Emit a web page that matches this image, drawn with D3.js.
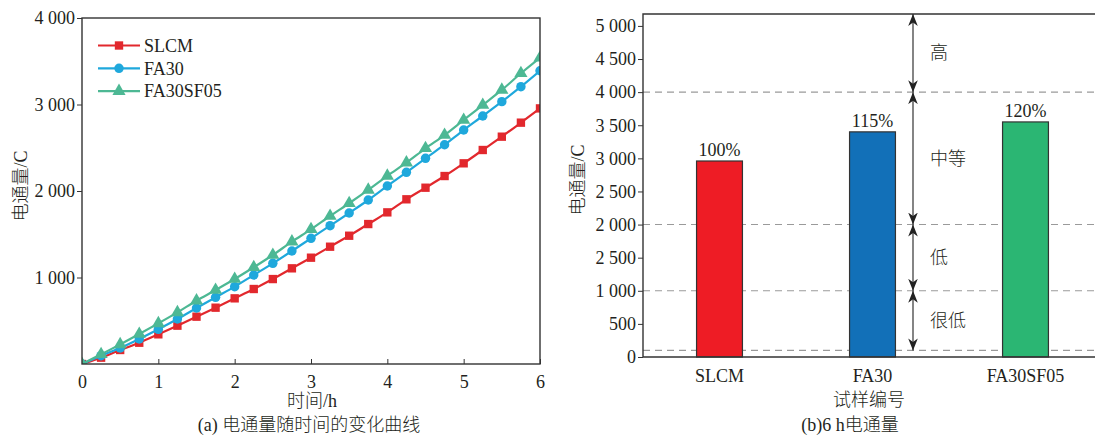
<!DOCTYPE html>
<html>

<head>
	<meta charset="utf-8">
	<script src="https://d3js.org/d3.v7.min.js"></script>
	<style>
		body {
			margin: 0;
			background-color: white;
		}

		text {
			font-family: "Liberation Serif", "Noto Sans CJK SC", serif;
			font-size: 18px;
			font-weight: 300;
			fill: #231f20;
		}

		.cjk {
			font-family: "Noto Sans CJK SC", sans-serif;
			font-weight: 300;
		}

		.axis path,
		.axis line {
			stroke: #333;
		}
	</style>
</head>

<body>
	<div id="chart"></div>

	<script>
		// ---- data (a): charge passed vs time ----
		var hours = [0, 0.25, 0.5, 0.75, 1, 1.25, 1.5, 1.75, 2, 2.25, 2.5, 2.75, 3,
			3.25, 3.5, 3.75, 4, 4.25, 4.5, 4.75, 5, 5.25, 5.5, 5.75, 6];
		var slcm = [0, 73, 162, 246, 343, 443, 547, 651, 759, 867, 982, 1106, 1229,
			1356, 1483, 1618, 1753, 1904, 2038, 2173, 2320, 2474, 2628, 2790, 2955];
		var fa30 = [0, 96, 185, 289, 401, 520, 647, 771, 894, 1029, 1164, 1306, 1453,
			1599, 1746, 1896, 2058, 2216, 2378, 2535, 2705, 2867, 3033, 3206, 3390];
		var fa30sf05 = [0, 112, 227, 347, 470, 597, 732, 855, 982, 1118, 1260, 1414, 1557,
			1711, 1858, 2012, 2175, 2327, 2494, 2647, 2821, 2994, 3168, 3361, 3540];
		var seriesNames = ["SLCM", "FA30", "FA30SF05"];
		var seriesColors = ["#e2282d", "#1fa8dc", "#4db894"];
		var seriesShapes = ["square", "circle", "triangle"];
		var xTicksA = [0, 1, 2, 3, 4, 5, 6];
		var yTicksA = [1000, 2000, 3000, 4000];

		// ---- data (b): charge passed at 6 h ----
		var samples = ["SLCM", "FA30", "FA30SF05"];
		var charge6h = [2960, 3400, 3550];
		var ratioLabels = ["100%", "115%", "120%"];
		var barColors = ["#ee1c25", "#1270b8", "#2bb673"];
		var yTicksB = [0, 500, 1000, 1500, 2000, 2500, 3000, 3500, 4000, 4500, 5000];
		var yTickLabelsB = ["0", "500", "1 000", "2 500", "2 000", "2 500", "3 000", "3 500", "4 000", "4 500", "5 000"];
		var gradeLines = [100, 1000, 2000, 4000];
		var grades = ["很低", "低", "中等", "高"];

		var W = 1095, H = 439;
		var svg = d3.select("#chart").append("svg")
			.attr("width", W)
			.attr("height", H);

		var defs = svg.append("defs");
		defs.append("marker")
			.attr("id", "arrow")
			.attr("viewBox", "-12 -6 13 12")
			.attr("refX", 0)
			.attr("refY", 0)
			.attr("markerWidth", 13)
			.attr("markerHeight", 12)
			.attr("markerUnits", "userSpaceOnUse")
			.attr("orient", "auto-start-reverse")
			.append("path")
			.attr("d", "M0,0 L-12,-4.8 L-8.5,0 L-12,4.8 Z")
			.attr("fill", "#222");

		function fmtK(d) {
			return d3.format(",")(d).replace(",", " ");
		}

		// ================= chart (a) =================
		var pa = { left: 82, right: 540, top: 18, bottom: 364 };
		var xA = d3.scaleLinear().domain([0, 6]).range([pa.left, pa.right]);
		var yA = d3.scaleLinear().domain([0, 4000]).range([pa.bottom, pa.top]);

		var gA = svg.append("g");

		gA.append("g")
			.attr("class", "axis")
			.attr("transform", "translate(0," + pa.bottom + ")")
			.call(d3.axisBottom(xA).tickValues(xTicksA).tickFormat(d3.format("d"))
				.tickSizeInner(-5).tickSizeOuter(0).tickPadding(11))
			.call(function (g) { g.select(".domain").remove(); });

		gA.append("g")
			.attr("class", "axis")
			.attr("transform", "translate(" + pa.left + ",0)")
			.call(d3.axisLeft(yA).tickValues(yTicksA).tickFormat(fmtK).tickSizeInner(5).tickSizeOuter(0).tickPadding(2))
			.call(function (g) { g.select(".domain").remove(); });

		gA.selectAll(".axis").attr("font-size", null).attr("font-family", null);

		var series = seriesNames.map(function (name, i) {
			var vals = [slcm, fa30, fa30sf05][i];
			return {
				name: name,
				color: seriesColors[i],
				shape: seriesShapes[i],
				points: hours.map(function (h, j) { return { t: h, v: vals[j] }; })
			};
		});

		var line = d3.line()
			.x(function (d) { return xA(d.t); })
			.y(function (d) { return yA(d.v); })
			.curve(d3.curveMonotoneX);

		var symbolType = {
			square: d3.symbolSquare,
			circle: d3.symbolCircle,
			triangle: d3.symbolTriangle
		};
		var symbolSize = { square: 70, circle: 70, triangle: 75 };

		gA.append("clipPath").attr("id", "clipA")
			.append("rect")
			.attr("x", pa.left).attr("y", pa.top)
			.attr("width", pa.right - pa.left).attr("height", pa.bottom - pa.top);

		var sg = gA.selectAll(".series")
			.data(series)
			.enter().append("g")
			.attr("class", "series")
			.attr("clip-path", "url(#clipA)");

		sg.append("path")
			.attr("d", function (d) { return line(d.points); })
			.attr("fill", "none")
			.attr("stroke", function (d) { return d.color; })
			.attr("stroke-width", 2.2);

		sg.selectAll(".pt")
			.data(function (d) { return d.points.map(function (p) { return { p: p, s: d }; }); })
			.enter().append("path")
			.attr("class", "pt")
			.attr("transform", function (d) { return "translate(" + xA(d.p.t) + "," + yA(d.p.v) + ")"; })
			.attr("d", function (d) { return d3.symbol().type(symbolType[d.s.shape]).size(symbolSize[d.s.shape])(); })
			.attr("fill", function (d) { return d.s.color; });

		// frame
		gA.append("rect")
			.attr("x", pa.left).attr("y", pa.top)
			.attr("width", pa.right - pa.left).attr("height", pa.bottom - pa.top)
			.attr("fill", "none")
			.attr("stroke", "#333")
			.attr("stroke-width", 1.4);

		// legend
		var leg = gA.selectAll(".leg")
			.data(series)
			.enter().append("g")
			.attr("class", "leg")
			.attr("transform", function (d, i) { return "translate(98," + (45.5 + i * 22.8) + ")"; });
		leg.append("line")
			.attr("x1", 0).attr("x2", 42)
			.attr("stroke", function (d) { return d.color; })
			.attr("stroke-width", 2.2);
		leg.append("path")
			.attr("transform", "translate(21,0)")
			.attr("d", function (d) { return d3.symbol().type(symbolType[d.shape]).size(symbolSize[d.shape])(); })
			.attr("fill", function (d) { return d.color; });
		leg.append("text")
			.attr("x", 46)
			.attr("dy", "0.35em")
			.text(function (d) { return d.name; });

		gA.append("text")
			.attr("transform", "translate(27,186) rotate(-90)")
			.attr("text-anchor", "middle")
			.text("电通量/C");

		gA.append("text")
			.attr("x", 312)
			.attr("y", 407)
			.attr("text-anchor", "middle")
			.text("时间/h");

		gA.append("text")
			.attr("x", 309)
			.attr("y", 431)
			.attr("text-anchor", "middle")
			.text("(a) 电通量随时间的变化曲线");

		// ================= chart (b) =================
		var pb = { left: 643, right: 1095, top: 14, bottom: 357 };
		var xB = d3.scaleBand().domain(samples).range([pb.left, 1102]).paddingInner(0.7).paddingOuter(0.35);
		var yB = d3.scaleLinear().domain([0, 5180]).range([pb.bottom, pb.top]);

		var gB = svg.append("g");

		// grade dashed lines
		gB.selectAll(".grade")
			.data(gradeLines)
			.enter().append("line")
			.attr("x1", pb.left).attr("x2", pb.right)
			.attr("y1", function (d) { return yB(d); })
			.attr("y2", function (d) { return yB(d); })
			.attr("stroke", "#9a9a9a")
			.attr("stroke-width", 1.1)
			.attr("stroke-dasharray", "7,5");

		var bars = samples.map(function (s, i) {
			return { name: s, value: charge6h[i], label: ratioLabels[i], color: barColors[i] };
		});

		gB.selectAll(".bar")
			.data(bars)
			.enter().append("rect")
			.attr("class", "bar")
			.attr("x", function (d) { return xB(d.name); })
			.attr("y", function (d) { return yB(d.value); })
			.attr("width", xB.bandwidth())
			.attr("height", function (d) { return yB(0) - yB(d.value); })
			.attr("fill", function (d) { return d.color; })
			.attr("stroke", "#333")
			.attr("stroke-width", 1.2);

		gB.selectAll(".pct")
			.data(bars)
			.enter().append("text")
			.attr("x", function (d) { return xB(d.name) + xB.bandwidth() / 2; })
			.attr("y", function (d) { return yB(d.value) - 5; })
			.attr("text-anchor", "middle")
			.text(function (d) { return d.label; });

		// axes
		gB.append("g")
			.attr("class", "axis")
			.attr("transform", "translate(" + pb.left + ",0)")
			.call(d3.axisLeft(yB).tickValues(yTicksB)
				.tickFormat(function (d, i) { return yTickLabelsB[i]; })
				.tickSizeInner(5).tickSizeOuter(0).tickPadding(2))
			.call(function (g) { g.select(".domain").remove(); });

		gB.append("g")
			.attr("class", "axis")
			.attr("transform", "translate(0," + pb.bottom + ")")
			.call(d3.axisBottom(xB).tickSize(0).tickPadding(12))
			.call(function (g) { g.select(".domain").remove(); });

		gB.selectAll(".axis").attr("font-size", null).attr("font-family", null);

		// frame lines: left, top, bottom
		gB.append("path")
			.attr("d", "M" + pb.right + "," + pb.top + "H" + pb.left + "V" + pb.bottom + "H" + pb.right)
			.attr("fill", "none")
			.attr("stroke", "#333")
			.attr("stroke-width", 1.4);

		// grade arrows
		var arrowX = 913;
		var bounds = [100, 1000, 2000, 4000, 5180];
		var gradeBands = grades.map(function (g, i) { return { name: g, lo: bounds[i], hi: bounds[i + 1] }; });

		gB.selectAll(".arr")
			.data(gradeBands)
			.enter().append("line")
			.attr("x1", arrowX).attr("x2", arrowX)
			.attr("y1", function (d) { return yB(d.hi); })
			.attr("y2", function (d) { return yB(d.lo); })
			.attr("stroke", "#333")
			.attr("stroke-width", 1.2)
			.attr("marker-start", "url(#arrow)")
			.attr("marker-end", "url(#arrow)");

		gB.selectAll(".gradeLabel")
			.data(gradeBands)
			.enter().append("text")
			.attr("class", "cjk")
			.attr("x", arrowX + 17)
			.attr("y", function (d) { return (yB(d.lo) + yB(d.hi)) / 2; })
			.attr("dy", "0.35em")
			.text(function (d) { return d.name; });

		gB.append("text")
			.attr("transform", "translate(584,180) rotate(-90)")
			.attr("text-anchor", "middle")
			.text("电通量/C");

		gB.append("text")
			.attr("x", 869)
			.attr("y", 406)
			.attr("text-anchor", "middle")
			.text("试样编号");

		gB.append("text")
			.attr("x", 850)
			.attr("y", 431)
			.attr("text-anchor", "middle")
			.text("(b)6 h电通量");
	</script>
</body>

</html>
